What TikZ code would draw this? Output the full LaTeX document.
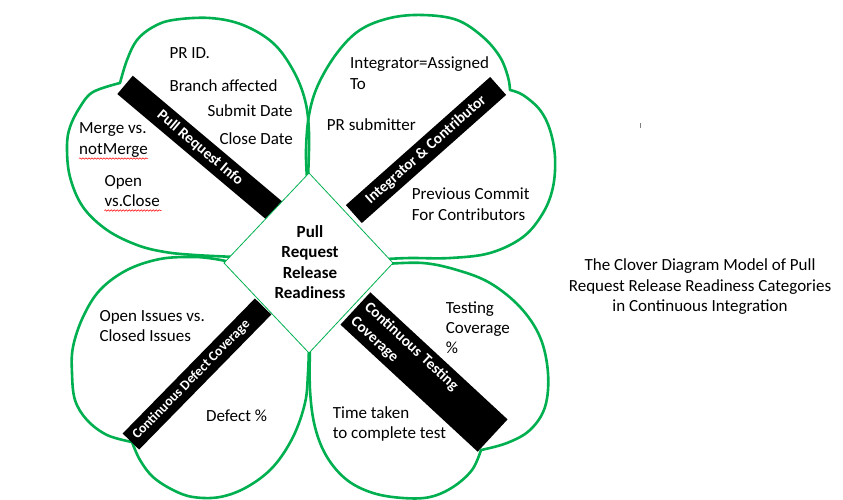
\documentclass[tikz,border=0pt]{standalone}
\usepackage{fontspec}
\setmainfont{Carlito}
\usetikzlibrary{decorations.pathmorphing}
\definecolor{cgreen}{RGB}{0,176,80}
\begin{document}
\begin{tikzpicture}[x=1pt,y=-1pt,
 leaf/.style={draw=cgreen, line width=2.6pt, line join=round},
 barbox/.style={fill=black, inner sep=0pt, text=white, font=\fontsize{15.3}{20}\selectfont\bfseries},
 lbl/.style={anchor=base west, inner sep=0pt, font=\fontsize{17}{20}\selectfont},
 squig/.style={draw=red, line width=0.5pt, decorate, decoration={snake, amplitude=0.7pt, segment length=3pt}}]
\useasboundingbox (0,0) rectangle (843,499);
\fill[white] (0,0) rectangle (843,499);
\coordinate (c) at (309,263);
% top-left leaf
\draw[leaf] (c) -- plot[smooth, tension=0.6] coordinates {(308,178) (309,133) (305,100) (293,70) (273,43) (243,25) (210,18) (173,20) (153,27) (137,40) (127,60) (120,83)}
 -- plot[smooth, tension=0.6] coordinates {(120,83) (93,92) (80,107) (70,127) (67,147) (70,177) (83,207) (107,230) (137,245) (165,252) (195,255) (236,257)} -- (c);
% top-right leaf
\draw[leaf] (c) -- plot[smooth, tension=0.6] coordinates {(307,178) (306,150) (309,115) (318,85) (337,53) (360,30) (390,18) (423,15) (457,20) (483,37) (500,57) (508,77) (510,90)}
 -- plot[smooth, tension=0.6] coordinates {(510,90) (523,95) (540,110) (550,130) (555,157) (553,187) (543,213) (523,237) (490,253) (450,258) (410,258) (387,259)} -- (c);
% bottom-left leaf
\draw[leaf] (c) -- plot[smooth, tension=0.6] coordinates {(240,264) (215,259) (193,257) (160,259) (127,270) (100,290) (83,317) (73,347) (72,373) (75,400) (87,420) (107,435) (132,442)}
 -- plot[smooth, tension=0.6] coordinates {(132,442) (140,460) (153,477) (173,490) (193,497) (220,497) (247,487) (273,467) (293,437) (305,403) (308,373) (309,345)} -- (c);
% bottom-right leaf
\draw[leaf] (c) -- plot[smooth, tension=0.6] coordinates {(385,264) (423,263) (457,270) (490,283) (520,307) (540,337) (548,373) (545,407) (530,430) (507,443) (481,450)}
 -- plot[smooth, tension=0.6] coordinates {(481,450) (472,470) (453,487) (430,497) (403,498) (373,493) (347,480) (327,457) (315,427) (310,390) (310,345)} -- (c);
% bars
\node[barbox, rotate=-40.1, minimum width=196pt, minimum height=24pt] (b1) at (200,148) {Pull Request Info};
\node[barbox, rotate=41.6, minimum width=193pt, minimum height=24pt] (b2) at (426,150) {Integrator \& Contributor};
\node[barbox, rotate=45.6, minimum width=189pt, minimum height=23pt] (b3) at (197,374) {};
\node[barbox, rotate=45.6, font=\fontsize{13.8}{18}\selectfont\bfseries] (t3) at (191.4,379.7) {Continuous Defect Coverage};
\node[barbox, rotate=-42.8, minimum height=44pt, text width=175pt, inner xsep=6pt, align=left] (b4) at (424,372) {Continuous Testing\\Coverage};
% centre diamond
\draw[draw=cgreen, line width=0.8pt, fill=white] (309,173) -- (393,263) -- (309,353) -- (224,263) -- cycle;
\node[font=\fontsize{17}{20.5}\selectfont\bfseries, align=center, inner sep=0pt] (ctr) at (310,262) {Pull\\Request\\Release\\Readiness};
% top-left texts
\node[lbl] (a1) at (169.3,58.3) {PR ID.};
\node[lbl] (a2) at (169.3,91.7) {Branch affected};
\node[lbl] (a3) at (207.3,116) {Submit Date};
\node[lbl] (a4) at (219.3,144.3) {Close Date};
\node[lbl] (a5) at (79,133.3) {Merge vs.};
\node[lbl] (a6) at (79,154) {notMerge};
\node[lbl] (a7) at (104.3,186.7) {Open};
\node[lbl] (a8) at (104.3,206.7) {vs.Close};
\draw[squig] (79,158.5) -- (148,158.5);
\draw[squig] (104.3,210.5) -- (161.5,210.5);
% top-right texts
\node[lbl] (d1) at (350,68.3) {Integrator=Assigned};
\node[lbl] (d2) at (350,89.3) {To};
\node[lbl] (d3) at (326.7,130) {PR submitter};
\node[lbl] (d4) at (411.7,199.3) {Previous Commit};
\node[lbl] (d5) at (411.7,220) {For Contributors};
% bottom-left texts
\node[lbl] (e1) at (99.3,321.7) {Open Issues vs.};
\node[lbl] (e2) at (99.3,341.7) {Closed Issues};
\node[lbl] (e3) at (206,421.7) {Defect \%};
% bottom-right texts
\node[lbl] (f1) at (445.7,313.3) {Testing};
\node[lbl] (f2) at (445.7,333.3) {Coverage};
\node[lbl] (f3) at (445.7,353.3) {\%};
\node[lbl] (f4) at (332.7,418.3) {Time taken};
\node[lbl] (f5) at (332.7,438.3) {to complete test};
% caption
\node[lbl, anchor=base] (g1) at (700,270.7) {The Clover Diagram Model of Pull};
\node[lbl, anchor=base] (g2) at (700,291.7) {Request Release Readiness Categories};
\node[lbl, anchor=base] (g3) at (700,311.7) {in Continuous Integration};
% stray mark
\draw[gray, line width=1pt] (640.5,123) -- (640.5,127.5);
\end{tikzpicture}
\end{document}
